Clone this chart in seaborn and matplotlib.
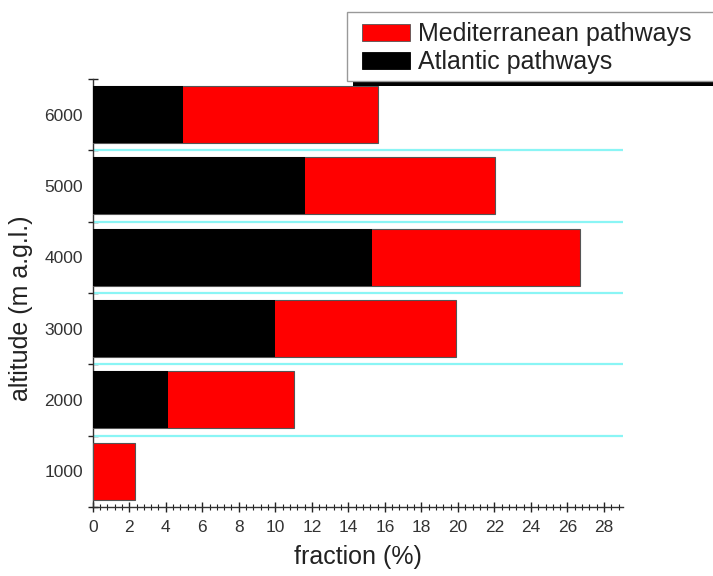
import numpy as np
import pandas as pd
import matplotlib
matplotlib.use("Agg")
import matplotlib.pyplot as plt
import seaborn as sns

# values
altitudes = ["6000", "5000", "4000", "3000", "2000", "1000"]
atlantic = [4.95, 11.6, 15.3, 10.0, 4.1, 0.0]
mediterranean = [10.7, 10.45, 11.4, 9.9, 6.95, 2.3]
x_ticks = list(range(0, 29, 2))

df = pd.DataFrame({"altitude": altitudes, "atlantic": atlantic, "mediterranean": mediterranean})
df["total"] = df["atlantic"] + df["mediterranean"]

sns.set_style("ticks")
plt.rcParams["font.family"] = ["Liberation Sans", "DejaVu Sans"]

fig = plt.figure(figsize=(7.13, 5.76), dpi=100)
ax = fig.add_axes([0.130, 0.120, 0.744, 0.743])

# stacked bars: total in red, atlantic drawn over it in black
sns.barplot(data=df, x="total", y="altitude", orient="h", order=altitudes,
            color="#ff0000", saturation=1, width=0.8,
            edgecolor="#555555", linewidth=0.8, ax=ax, zorder=3)
sns.barplot(data=df, x="atlantic", y="altitude", orient="h", order=altitudes,
            color="#000000", saturation=1, width=0.8,
            edgecolor="#000000", linewidth=0.0, ax=ax, zorder=4)

# cyan separators between altitude rows
for b in np.arange(0.5, len(altitudes) - 1, 1.0):
    ax.axhline(b, color="#8af5f5", lw=1.6, zorder=1)

ax.set_xlim(0, 29.05)
ax.set_ylim(len(altitudes) - 0.5, -0.5)

ax.set_xticks(x_ticks)
ax.set_xticks(np.arange(0, 29.01, 0.4), minor=True)
ax.set_yticks(range(len(altitudes)))
ax.set_yticklabels(altitudes)
ax.set_yticks(np.arange(-0.5, len(altitudes), 1.0), minor=True)

ax.tick_params(axis="x", which="major", direction="inout", length=7, width=1,
               labelsize=12.5, colors="#222222", labelcolor="#333333", pad=6)
ax.tick_params(axis="x", which="minor", direction="inout", length=4, width=0.8, colors="#222222")
ax.tick_params(axis="y", which="major", length=0, labelsize=12.5, labelcolor="#333333", pad=7)
ax.tick_params(axis="y", which="minor", direction="inout", length=7, width=1, colors="#222222")

sns.despine(ax=ax)
for s in ["left", "bottom"]:
    ax.spines[s].set_color("#333333")
    ax.spines[s].set_linewidth(1.0)

ax.set_xlabel("fraction (%)", fontsize=18, color="#222222")
ax.set_ylabel("altitude (m a.g.l.)", fontsize=18, color="#222222")
ax.xaxis.set_label_coords(0.5, -0.088)
ax.yaxis.set_label_coords(-0.112, 0.465)

handles = [plt.Rectangle((0, 0), 1, 1, fc="#ff0000", ec="#555555", lw=0.6),
           plt.Rectangle((0, 0), 1, 1, fc="#000000", ec="#000000", lw=0.6)]
leg = fig.legend(handles, ["Mediterranean pathways", "Atlantic pathways"],
                 loc="upper left", bbox_to_anchor=(362 / 713, 1 - 22 / 576), borderaxespad=0,
                 fontsize=18, frameon=False,
                 handlelength=1.9, handleheight=0.7, handletextpad=0.32,
                 labelspacing=0.17, borderpad=0.0, labelcolor="#222222")
leg.set_zorder(10)

# legend box (runs off the right edge) with a solid black drop shadow
fig.canvas.draw()
bb = leg.get_window_extent()
x0, y0, y1 = bb.x0 - 15, bb.y0 - 7, (576 - 12)
w = 760 - x0
fig.patches.append(plt.Rectangle((x0 + 6, y0 - 5), w, y1 - y0, transform=None,
                                 fc="black", ec="none", zorder=8))
fig.patches.append(plt.Rectangle((x0, y0), w, y1 - y0, transform=None,
                                 fc="white", ec="#999999", lw=1.0, zorder=9))

fig.savefig("out.png", dpi=100)
